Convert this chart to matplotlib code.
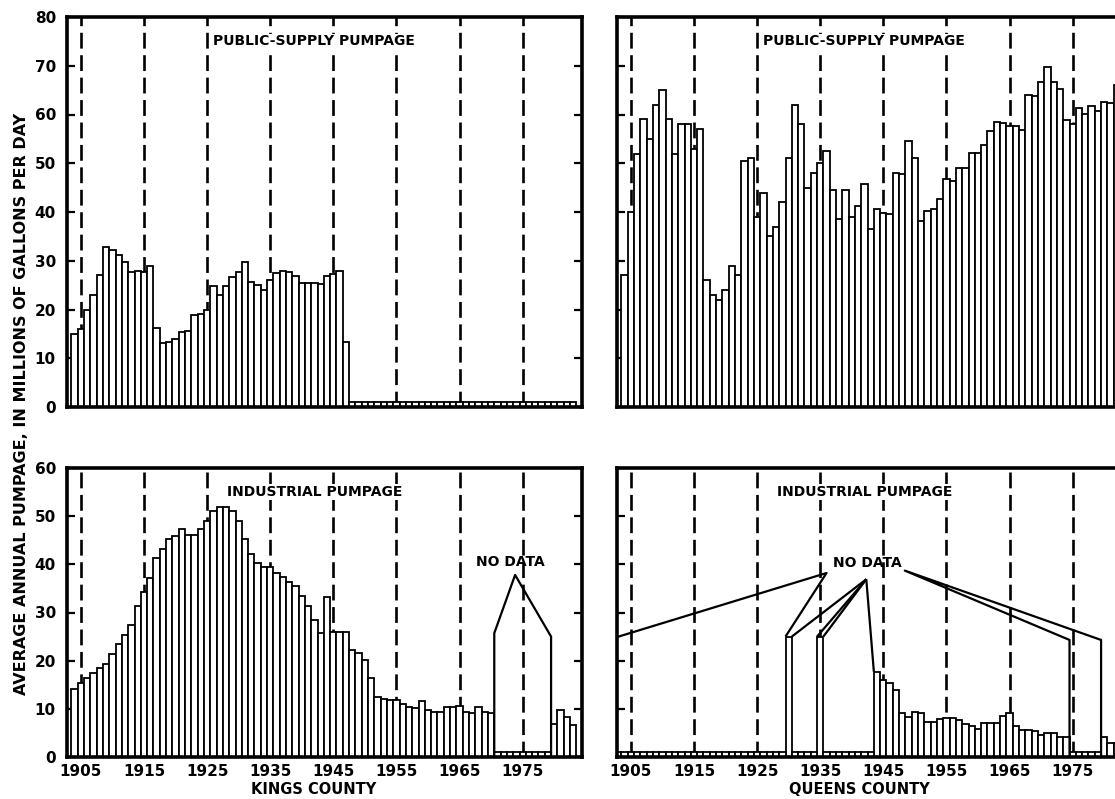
import matplotlib
matplotlib.use("Agg")
import matplotlib.pyplot as plt

plt.rcParams['font.family'] = ['DejaVu Sans']
plt.rcParams['font.weight'] = 'bold'

# ---- data (million gallons per day) ----
kings_public_years = list(range(1904, 1948))
kings_public = [15, 16, 20, 23, 27, 32.8, 32.3, 31.1, 29.7, 27.7, 27.9, 27.7, 28.9, 16.2,
                13.1, 13.3, 14, 15.4, 15.6, 18.8, 19.1, 19.8, 24.8, 22.9, 24.8, 26.7, 27.7,
                29.7, 25.6, 25, 23.9, 26.1, 27.5, 27.9, 27.7, 26.8, 25.4, 25.4, 25.4, 25.2,
                26.8, 27.3, 27.8, 13.3]
kings_public_none = list(range(1948, 1984))

queens_public_years = list(range(1904, 1983))
queens_public = [27, 40, 52, 59, 55, 62, 65, 59, 52, 58, 58, 53, 57, 26,
                 23, 22, 24, 29, 27,
                 50.5, 51, 39, 44, 35, 37, 42, 51, 62, 58, 45, 48, 50, 52.5, 44.6, 38.5,
                 44.5, 39, 41.2, 45.7, 36.5, 40.7, 39.8, 39.5, 47.9, 47.7, 54.6,
                 51, 38.1, 40.2, 40.7, 42.7, 46.8, 46.4, 49.1, 49.1, 52.1, 52.1, 53.7, 56.7,
                 58.5, 58.2, 57.7, 57.7, 56.9, 64.1, 63.7, 66.6, 69.7,
                 66.6, 65.2, 58.9, 58, 61.3, 60.1, 61.7, 60.8, 62.5, 62.4, 66.1]

kings_ind_years = list(range(1904, 1971)) + list(range(1980, 1984))
kings_ind = [14.2, 15.3, 16.3, 17.5, 18.4, 19.4, 21.4, 23.4, 25.4, 27.4, 31.4, 34.3, 37.2,
             41.3, 43.2, 45.2, 45.9, 47.3, 46.1, 46.1, 47.3, 49.1, 51, 51.9, 51.9, 51.1,
             49.1, 45.2, 42.2, 40.2, 39.4, 39.4, 38.3, 37.4, 36.4, 35.4, 33.4, 31.4, 28.4,
             25.7, 33.3,
             26, 26, 26, 22.3, 21.5, 20.2, 16.5, 12.5, 12.1, 11.9, 11.9, 11.1, 10.4, 10.1,
             11.7, 9.8, 9.4, 9.4, 10.3, 10.3, 10.5, 9.4, 9.2, 10.4, 9.4, 9.2,
             6.9, 9.8, 8.3, 6.6]
kings_ind_none = list(range(1971, 1980))

queens_ind_years = [1930, 1935] + list(range(1944, 1975)) + [1980, 1981, 1982]
queens_ind = [25, 25,
              17.7, 16, 15.4, 14, 9.1, 8.4, 9.4, 9.1, 7.3, 7.3, 7.8, 8.2, 8.0, 7.7, 6.8,
              6.4, 5.9, 7.1, 7.1, 7.1, 8.5, 9.1, 6.4, 5.7, 5.6, 5.5, 4.6, 4.9, 4.9, 4.2, 4.2,
              4.1, 2.9, 2.9]
queens_ind_none = (list(range(1903, 1930)) + list(range(1931, 1935)) +
                   list(range(1936, 1944)) + list(range(1975, 1980)))

decades = list(range(1905, 1976, 10))
STUB = 1.0

fig = plt.figure(figsize=(11.15, 7.99), dpi=100)
W = 515 / 1115
axes = {
    'tl': fig.add_axes([67 / 1115, 1 - 407 / 799, W, 390 / 799]),
    'tr': fig.add_axes([617 / 1115, 1 - 407 / 799, W, 390 / 799]),
    'bl': fig.add_axes([67 / 1115, 1 - 757 / 799, W, 289 / 799]),
    'br': fig.add_axes([617 / 1115, 1 - 757 / 799, W, 289 / 799]),
}

panels = {
    'tl': (kings_public_years, kings_public, kings_public_none, 80, 'PUBLIC-SUPPLY PUMPAGE'),
    'tr': (queens_public_years, queens_public, [], 80, 'PUBLIC-SUPPLY PUMPAGE'),
    'bl': (kings_ind_years, kings_ind, kings_ind_none, 60, 'INDUSTRIAL PUMPAGE'),
    'br': (queens_ind_years, queens_ind, queens_ind_none, 60, 'INDUSTRIAL PUMPAGE'),
}

bar_kw = dict(width=1.0, color='white', edgecolor='black', linewidth=1.3, zorder=2)

for key, ax in axes.items():
    yrs, vals, none, top, title = panels[key]
    for d in decades:
        ax.axvline(d, color='black', lw=1.9, dashes=(6, 2.5), zorder=1)
    ax.bar(yrs, vals, **bar_kw)
    if none:
        ax.bar(none, [STUB] * len(none), **bar_kw)
    ax.set_xlim(1902.8, 1984.4)
    ax.set_ylim(0, top)
    ax.set_yticks(range(0, top + 1, 10))
    ax.set_xticks(decades)
    for s in ax.spines.values():
        s.set_linewidth(2.6)
        s.set_zorder(5)
    ax.tick_params(axis='y', direction='in', length=6, width=1.6,
                   left=True, right=True, labelsize=11, pad=8,
                   labelleft=key in ('tl', 'bl'))
    ax.tick_params(axis='x', length=0, labelsize=11, pad=5,
                   labelbottom=key in ('bl', 'br'))
    for lab in ax.get_xticklabels() + ax.get_yticklabels():
        lab.set_fontweight('bold')
    ty = 75 if top == 80 else 55
    ax.text(1942, ty, title, ha='center', va='center', fontsize=10,
            fontweight='bold', zorder=6,
            bbox=dict(facecolor='white', edgecolor='none', pad=0.5))

# "NO DATA" annotations
line_kw = dict(color='black', lw=1.6, zorder=4, solid_capstyle='butt')
ax = axes['bl']
ax.text(1973.1, 40.5, 'NO DATA', ha='center', va='center', fontsize=10, fontweight='bold')
ax.plot([1970.5, 1970.5, 1973.8, 1979.5, 1979.5], [0, 25.7, 37.8, 25, 0], **line_kw)

ax = axes['br']
ax.text(1942.5, 40.2, 'NO DATA', ha='center', va='center', fontsize=10, fontweight='bold')
ax.plot([1902.8, 1936.0, 1929.5], [24.9, 38.2, 25], **line_kw)
for x, y in [(1930.5, 25), (1934.5, 25), (1935.5, 25), (1943.5, 17.7)]:
    ax.plot([1942.3, x], [36.9, y], **line_kw)
ax.plot([1974.5, 1974.5, 1948.4, 1979.5, 1979.5], [0, 24.3, 38.7, 24.3, 0], **line_kw)

fig.text(22 / 1115, 1 - 404 / 799, 'AVERAGE ANNUAL PUMPAGE, IN MILLIONS OF GALLONS PER DAY',
         rotation=90, ha='center', va='center', fontsize=11.5, fontweight='bold')
fig.text(314 / 1115, 1 - 789 / 799, 'KINGS COUNTY', ha='center', va='center',
         fontsize=10.5, fontweight='bold')
fig.text(859 / 1115, 1 - 789 / 799, 'QUEENS COUNTY', ha='center', va='center',
         fontsize=10.5, fontweight='bold')

fig.savefig('out.png', dpi=100)
